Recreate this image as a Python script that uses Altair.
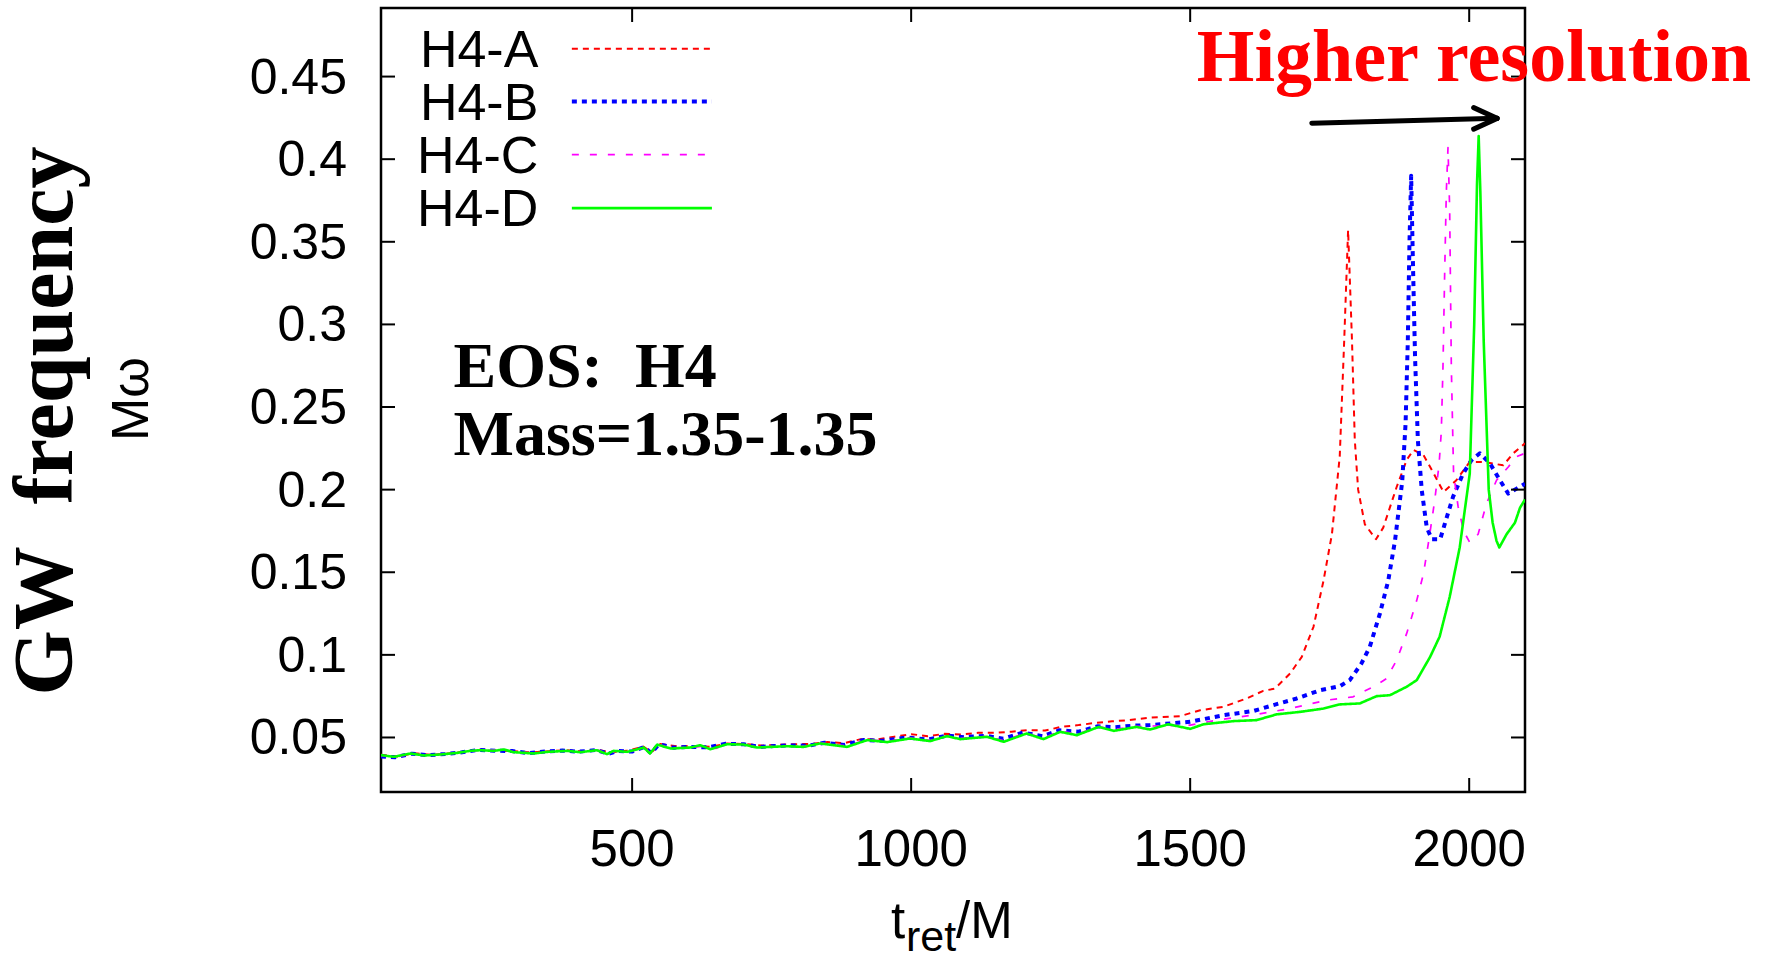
import altair as alt
import pandas as pd

# ---------------- data ----------------
series_names = ["H4-A", "H4-B", "H4-C", "H4-D"]
series_colors = ["#ff0000", "#0000ff", "#ff00ff", "#00ff00"]
series_dashes = [[6, 5], [5, 5], [7, 11], [1, 0]]
series_widths = [2.0, 4.0, 1.7, 2.6]

tA = [50, 80, 110, 140, 170, 200, 230, 260, 290, 320,
      350, 380, 410, 440, 460, 490, 520, 535, 550, 580,
      610, 640, 670, 700, 730, 760, 790, 820, 850, 880,
      910, 940, 970, 1000, 1030, 1060, 1090, 1120, 1150, 1180,
      1210, 1240, 1270, 1300, 1330, 1360, 1390, 1428, 1482, 1518,
      1560, 1601, 1631, 1652, 1679, 1700, 1721, 1739, 1754, 1768,
      1776, 1783, 1790, 1795, 1801, 1813, 1833, 1846, 1870, 1888,
      1900, 1918, 1936, 1954, 1977, 2001, 2025, 2061, 2079, 2100]
fA = [0.0395, 0.0385, 0.0405, 0.0395, 0.0403, 0.0415, 0.0427, 0.0421, 0.0417, 0.0409,
      0.0417, 0.0423, 0.0417, 0.0425, 0.0410, 0.0419, 0.0445, 0.0410, 0.0461, 0.0447,
      0.0449, 0.0443, 0.0463, 0.0461, 0.0451, 0.0455, 0.0459, 0.0461, 0.0472, 0.0466,
      0.0490, 0.0488, 0.0505, 0.0520, 0.0508, 0.0522, 0.0518, 0.0528, 0.0528, 0.0535,
      0.0545, 0.0542, 0.0565, 0.0575, 0.0588, 0.0598, 0.0605, 0.0620, 0.0629, 0.0665,
      0.0686, 0.0736, 0.0782, 0.0796, 0.0887, 0.0988, 0.1170, 0.1450, 0.1730, 0.2200,
      0.2900, 0.3570, 0.2900, 0.2300, 0.2000, 0.1790, 0.1700, 0.1770, 0.2016, 0.2180,
      0.2240, 0.2210, 0.2100, 0.1986, 0.2057, 0.2168, 0.2168, 0.2147, 0.2220, 0.2280]

tB = [50, 75, 105, 135, 165, 195, 225, 255, 285, 315,
      345, 375, 405, 435, 458, 475, 500, 522, 534, 548,
      575, 605, 635, 668, 700, 728, 755, 785, 815, 845,
      880, 915, 950, 990, 1030, 1065, 1095, 1135, 1165, 1200,
      1235, 1265, 1300, 1335, 1365, 1400, 1428, 1500, 1560, 1613,
      1649, 1691, 1733, 1768, 1786, 1807, 1822, 1840, 1855, 1867,
      1880, 1886, 1890, 1893, 1896, 1899, 1903, 1908, 1915, 1924,
      1933, 1948, 1956, 1971, 1989, 2004, 2019, 2037, 2055, 2070,
      2085, 2100]
fB = [0.0385, 0.0380, 0.0402, 0.0393, 0.0400, 0.0410, 0.0425, 0.0420, 0.0418, 0.0405,
      0.0415, 0.0421, 0.0414, 0.0424, 0.0402, 0.0418, 0.0415, 0.0442, 0.0405, 0.0459,
      0.0438, 0.0443, 0.0440, 0.0462, 0.0459, 0.0443, 0.0448, 0.0452, 0.0450, 0.0468,
      0.0455, 0.0485, 0.0480, 0.0500, 0.0488, 0.0512, 0.0502, 0.0510, 0.0492, 0.0530,
      0.0508, 0.0543, 0.0535, 0.0568, 0.0562, 0.0572, 0.0575, 0.0595, 0.0635, 0.0660,
      0.0696, 0.0736, 0.0786, 0.0810, 0.0847, 0.0948, 0.1050, 0.1250, 0.1450, 0.1690,
      0.2050, 0.2400, 0.2900, 0.3500, 0.3900, 0.3400, 0.2800, 0.2300, 0.1996, 0.1770,
      0.1700, 0.1700, 0.1790, 0.1956, 0.2097, 0.2178, 0.2220, 0.2160, 0.2057, 0.1976,
      0.2006, 0.2036]

tC = [50, 78, 105, 130, 160, 190, 215, 240, 265, 292,
      325, 350, 385, 410, 440, 457, 470, 495, 522, 533,
      547, 572, 606, 630, 650, 672, 702, 726, 752, 782,
      812, 842, 885, 920, 957, 996, 1034, 1064, 1090, 1136,
      1166, 1205, 1237, 1267, 1298, 1336, 1363, 1404, 1428, 1500,
      1548, 1607, 1679, 1745, 1792, 1834, 1852, 1870, 1888, 1906,
      1918, 1928, 1938, 1946, 1950, 1953, 1956, 1959, 1962, 1965,
      1968, 1972, 1980, 1990, 2001, 2016, 2031, 2049, 2070, 2085,
      2100]
fC = [0.0390, 0.0382, 0.0401, 0.0392, 0.0398, 0.0408, 0.0420, 0.0421, 0.0425, 0.0413,
      0.0405, 0.0414, 0.0420, 0.0413, 0.0423, 0.0400, 0.0418, 0.0414, 0.0440, 0.0404,
      0.0458, 0.0435, 0.0441, 0.0448, 0.0434, 0.0461, 0.0458, 0.0441, 0.0446, 0.0450,
      0.0446, 0.0466, 0.0448, 0.0487, 0.0476, 0.0498, 0.0482, 0.0510, 0.0495, 0.0507,
      0.0480, 0.0527, 0.0497, 0.0538, 0.0520, 0.0566, 0.0548, 0.0567, 0.0569, 0.0575,
      0.0605, 0.0633, 0.0675, 0.0726, 0.0746, 0.0817, 0.0857, 0.0968, 0.1130, 0.1330,
      0.1490, 0.1700, 0.1930, 0.2150, 0.2350, 0.2740, 0.3300, 0.3800, 0.4070, 0.3700,
      0.2740, 0.2100, 0.1900, 0.1750, 0.1680, 0.1730, 0.1916, 0.2057, 0.2137, 0.2200,
      0.2220]

tD = [50, 73, 103, 127, 157, 187, 210, 228, 252, 270,
      288, 324, 348, 383, 407, 437, 455, 467, 491, 521,
      532, 545, 569, 604, 622, 640, 670, 700, 724, 748,
      778, 807, 837, 885, 921, 957, 998, 1034, 1064, 1088,
      1136, 1166, 1207, 1237, 1267, 1297, 1336, 1363, 1404, 1428,
      1461, 1500, 1524, 1578, 1619, 1655, 1697, 1739, 1768, 1804,
      1834, 1858, 1888, 1906, 1930, 1947, 1965, 1983, 2001, 2009,
      2014, 2017, 2020, 2026, 2035, 2042, 2049, 2054, 2067, 2082,
      2091, 2100]
fD = [0.0393, 0.0383, 0.0403, 0.0391, 0.0397, 0.0407, 0.0419, 0.0423, 0.0419, 0.0427,
      0.0411, 0.0403, 0.0413, 0.0419, 0.0411, 0.0423, 0.0399, 0.0419, 0.0413, 0.0439,
      0.0403, 0.0457, 0.0433, 0.0439, 0.0453, 0.0429, 0.0459, 0.0457, 0.0439, 0.0443,
      0.0447, 0.0443, 0.0464, 0.0443, 0.0484, 0.0472, 0.0494, 0.0478, 0.0508, 0.0490,
      0.0504, 0.0474, 0.0524, 0.0490, 0.0534, 0.0514, 0.0564, 0.0540, 0.0564, 0.0548,
      0.0580, 0.0552, 0.0580, 0.0599, 0.0605, 0.0640, 0.0655, 0.0675, 0.0700, 0.0706,
      0.0750, 0.0756, 0.0807, 0.0847, 0.0988, 0.1110, 0.1350, 0.1650, 0.2097, 0.3000,
      0.3850, 0.4140, 0.3800, 0.2900, 0.2000, 0.1800, 0.1690, 0.1650, 0.1730, 0.1800,
      0.1890, 0.1940]

x_ticks = [500, 1000, 1500, 2000]
x_tick_labels = ["500", "1000", "1500", "2000"]
y_ticks = [0.05, 0.1, 0.15, 0.2, 0.25, 0.3, 0.35, 0.4, 0.45]
y_tick_labels = ["0.05", "0.1", "0.15", "0.2", "0.25", "0.3", "0.35", "0.4", "0.45"]
x_domain = [50, 2100]
y_domain = [0.017, 0.4915]

# legend placement (data coordinates)
legend_rows_f = [0.4668, 0.4349, 0.4027, 0.3704]
legend_text_t = 332
legend_line_t = [392, 643]

# annotations (data coordinates)
info_lines = ["EOS:\u00a0\u00a0H4", "Mass=1.35-1.35"]
info_t = [180, 180]
info_f = [0.262, 0.2208]
hires_text = ["Higher resolution"]
hires_t = [1512]
hires_f = [0.4476]
arrow_t1 = [1718, 2050, 2050]
arrow_f1 = [0.4218, 0.4247, 0.4247]
arrow_t2 = [2050, 2008, 2008]
arrow_f2 = [0.4247, 0.4312, 0.4182]

# ---------------- build tables ----------------
width_of = dict(zip(series_names, series_widths))
rows = []
for name, ts, fs in zip(series_names, [tA, tB, tC, tD], [fA, fB, fC, fD]):
    for t, f in zip(ts, fs):
        rows.append({"series": name, "t": t, "f": f, "w": width_of[name]})
df = pd.DataFrame(rows)

leg = pd.DataFrame({
    "series": series_names,
    "f": legend_rows_f,
    "tx": [legend_text_t] * 4,
    "t1": [legend_line_t[0]] * 4,
    "t2": [legend_line_t[1]] * 4,
    "w": series_widths,
})

W, H = 1144, 784
xs = alt.Scale(domain=x_domain, nice=False, zero=False)
ys = alt.Scale(domain=y_domain, nice=False, zero=False)

color = alt.Color("series:N", scale=alt.Scale(domain=series_names, range=series_colors), legend=None)
dash = alt.StrokeDash("series:N", scale=alt.Scale(domain=series_names, range=series_dashes), legend=None)
sw = alt.StrokeWidth("w:Q", scale=None, legend=None)

SANS = "Liberation Sans"
SERIF = "Liberation Serif"

X = lambda f: alt.X(f, scale=xs, axis=None)
Y = lambda f: alt.Y(f, scale=ys, axis=None)

lines = alt.Chart(df).mark_line(clip=True, strokeJoin="round").encode(
    x=X("t:Q"), y=Y("f:Q"), color=color, strokeDash=dash, strokeWidth=sw,
    detail="series:N",
)

xt = pd.DataFrame({"t": x_ticks, "lab": x_tick_labels})
yt = pd.DataFrame({"f": y_ticks, "lab": y_tick_labels})
tick_style = dict(color="black", strokeWidth=2)
tick_bottom = alt.Chart(xt).mark_rule(**tick_style).encode(
    x=X("t:Q"), y=alt.value(H), y2=alt.value(H - 14))
tick_top = alt.Chart(xt).mark_rule(**tick_style).encode(
    x=X("t:Q"), y=alt.value(0), y2=alt.value(14))
tick_left = alt.Chart(yt).mark_rule(**tick_style).encode(
    y=Y("f:Q"), x=alt.value(0), x2=alt.value(14))
tick_right = alt.Chart(yt).mark_rule(**tick_style).encode(
    y=Y("f:Q"), x=alt.value(W), x2=alt.value(W - 14))

xlab = alt.Chart(xt).mark_text(
    align="center", baseline="alphabetic", font=SANS, fontSize=51, color="black").encode(
    x=X("t:Q"), y=alt.value(866 - 8), text="lab:N")
ylab = alt.Chart(yt).mark_text(
    align="right", baseline="middle", font=SANS, fontSize=50, color="black", dy=2).encode(
    y=Y("f:Q"), x=alt.value(-34), text="lab:N")

leg_lines = alt.Chart(leg).mark_rule().encode(
    x=X("t1:Q"), x2="t2:Q", y=Y("f:Q"),
    color=color, strokeDash=dash, strokeWidth=sw)
leg_text = alt.Chart(leg).mark_text(
    align="right", baseline="middle", font=SANS, fontSize=52, color="black", dy=2).encode(
    x=X("tx:Q"), y=Y("f:Q"), text="series:N")

info = alt.Chart(pd.DataFrame({"txt": info_lines, "t": info_t, "f": info_f})).mark_text(
    align="left", baseline="alphabetic", font=SERIF, fontWeight="bold", fontSize=64,
    color="black").encode(x=X("t:Q"), y=Y("f:Q"), text="txt:N")

hires = alt.Chart(pd.DataFrame({"txt": hires_text, "t": hires_t, "f": hires_f})).mark_text(
    align="left", baseline="alphabetic", font=SERIF, fontWeight="bold", fontSize=74,
    color="#ff0000").encode(x=X("t:Q"), y=Y("f:Q"), text="txt:N")

arrow = alt.Chart(pd.DataFrame({"t1": arrow_t1, "f1": arrow_f1, "t2": arrow_t2, "f2": arrow_f2})).mark_rule(
    color="black", strokeWidth=5, strokeCap="round").encode(
    x=X("t1:Q"), y=Y("f1:Q"), x2="t2:Q", y2="f2:Q")

# axis titles (outside the plot area, positioned in pixels)
ytitle = alt.Chart(pd.DataFrame({"s": ["GW\u00a0\u00a0frequency"]})).mark_text(
    angle=270, align="center", baseline="alphabetic", font=SERIF, fontWeight="bold",
    fontSize=84, color="black").encode(x=alt.value(72 - 381), y=alt.value(421 - 8), text="s:N")
ysub = alt.Chart(pd.DataFrame({"s": ["M\u03c9"]})).mark_text(
    angle=270, align="center", baseline="alphabetic", font=SANS, fontSize=52,
    color="black").encode(x=alt.value(148 - 381), y=alt.value(399 - 8), text="s:N")
xt_main = alt.Chart(pd.DataFrame({"s": ["t"]})).mark_text(
    align="left", baseline="alphabetic", font=SANS, fontSize=51, color="black").encode(
    x=alt.value(891 - 381), y=alt.value(938 - 8), text="s:N")
xt_sub = alt.Chart(pd.DataFrame({"s": ["ret"]})).mark_text(
    align="left", baseline="alphabetic", font=SANS, fontSize=43, color="black").encode(
    x=alt.value(906 - 381), y=alt.value(951 - 8), text="s:N")
xt_end = alt.Chart(pd.DataFrame({"s": ["/M"]})).mark_text(
    align="left", baseline="alphabetic", font=SANS, fontSize=51, color="black").encode(
    x=alt.value(956 - 381), y=alt.value(938 - 8), text="s:N")

chart = alt.layer(
    lines, tick_bottom, tick_top, tick_left, tick_right, xlab, ylab,
    leg_lines, leg_text, info, hires, arrow,
    ytitle, ysub, xt_main, xt_sub, xt_end,
).properties(
    width=W, height=H,
    padding={"left": 381, "top": 8, "right": 246, "bottom": 163},
    autosize=alt.AutoSizeParams(type="none"),
    background="white",
).configure_view(stroke="black", strokeWidth=2.5)

chart.save("out.html", embed_options={"renderer": "svg", "actions": False})
